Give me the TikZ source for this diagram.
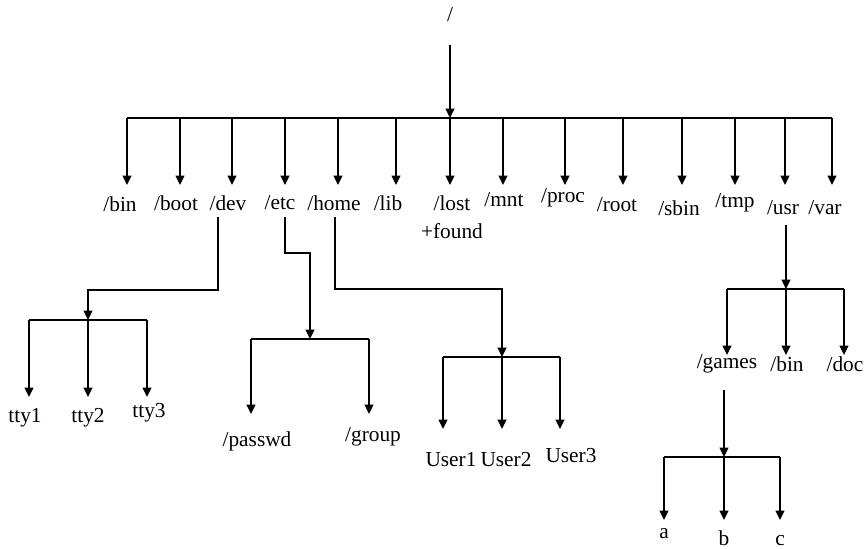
\documentclass[tikz,border=0pt]{standalone}
\usepackage{fontspec}
\setmainfont{Liberation Serif}
\usetikzlibrary{arrows.meta}
\begin{document}
\begin{tikzpicture}[x=0.75pt,y=-0.75pt,
  lbl/.style={inner sep=0pt,font=\fontsize{16}{21}\selectfont},
  ln/.style={line width=1.25pt},
  arr/.style={ln,-{Triangle[length=7pt,width=6.5pt]}}]
\useasboundingbox (0,0) rectangle (867,549);
% root
\node[lbl] (root) at (450,15) {/};
\coordinate (root-s) at (450,45);
\coordinate (top-j) at (450,118);
\coordinate (busL) at (127,118);
\coordinate (busR) at (832,118);
\draw[arr] (root-s) -- (top-j);
\draw[ln] (busL) -- (busR);
% first level
\foreach \n/\ax/\lx/\ly in {bin/127/120/204,boot/180/176/203,dev/232/228/203,etc/285/280/203,home/338/334/203,lib/396/388/203,mnt/503/504/200,proc/565/563/198,root/623/617/205,sbin/682/679/208,tmp/735/735/203,usr/785/783/208,var/832/825/208}{
  \node[lbl] (d-\n) at (\lx,\ly) {/\n};
  \coordinate (d-\n-t) at (\ax,185);
  \draw[arr] (d-\n-t |- busL) -- (d-\n-t);
}
\node[lbl,align=center] (d-lost) at (452,217) {/lost\\+found};
\coordinate (d-lost-t) at (450,185);
\draw[arr] (top-j) -- (d-lost-t);
% /dev subtree
\coordinate (dev-s) at (218,217);
\coordinate (dev-k) at (218,290);
\coordinate (dev-j) at (88,320);
\draw[arr] (dev-s) -- (dev-k) -- (dev-k -| dev-j) -- (dev-j);
\foreach \n/\ax/\lx/\ly in {tty1/29/25/418,tty2/88/88/418,tty3/147/149/413}{
  \node[lbl] (\n) at (\lx,\ly) {\n};
  \coordinate (\n-t) at (\ax,397);
}
\draw[ln] (tty1-t |- dev-j) -- (tty3-t |- dev-j);
\foreach \n in {tty1,tty2,tty3}{\draw[arr] (\n-t |- dev-j) -- (\n-t);}
% /etc subtree
\coordinate (etc-s) at (285,217);
\coordinate (etc-k) at (285,253);
\coordinate (etc-j) at (310,339);
\draw[arr] (etc-s) -- (etc-k) -- (etc-k -| etc-j) -- (etc-j);
\node[lbl] (passwd) at (257,441) {/passwd};
\node[lbl] (group) at (373,437) {/group};
\coordinate (passwd-t) at (251,414);
\coordinate (group-t) at (369,414);
\draw[ln] (passwd-t |- etc-j) -- (group-t |- etc-j);
\foreach \n in {passwd,group}{\draw[arr] (\n-t |- etc-j) -- (\n-t);}
% /home subtree
\coordinate (home-s) at (335,217);
\coordinate (home-k) at (335,289);
\coordinate (home-j) at (502,357);
\draw[arr] (home-s) -- (home-k) -- (home-k -| home-j) -- (home-j);
\foreach \n/\ax/\lx/\ly in {User1/443/451/460,User2/502/506/460,User3/560/571/456}{
  \node[lbl] (\n) at (\lx,\ly) {\n};
  \coordinate (\n-t) at (\ax,429);
}
\draw[ln] (User1-t |- home-j) -- (User3-t |- home-j);
\foreach \n in {User1,User2,User3}{\draw[arr] (\n-t |- home-j) -- (\n-t);}
% /usr subtree
\coordinate (usr-s) at (786,225);
\coordinate (usr-j) at (786,289);
\draw[arr] (usr-s) -- (usr-j);
\foreach \n/\ax/\lx/\ly in {games/727/727/364,bin/786/787/364,doc/844/845/364}{
  \node[lbl] (u-\n) at (\lx,\ly) {/\n};
  \coordinate (u-\n-t) at (\ax,355);
}
\draw[ln] (u-games-t |- usr-j) -- (u-doc-t |- usr-j);
\foreach \n in {games,bin,doc}{\draw[arr] (u-\n-t |- usr-j) -- (u-\n-t);}
% /games subtree
\coordinate (games-s) at (724,390);
\coordinate (games-j) at (724,457);
\draw[arr] (games-s) -- (games-j);
\foreach \n/\ax/\lx/\ly in {a/664/664/534,b/724/724/538,c/780/780/541}{
  \node[lbl] (g-\n) at (\lx,\ly) {\n};
  \coordinate (g-\n-t) at (\ax,520);
}
\draw[ln] (g-a-t |- games-j) -- (g-c-t |- games-j);
\foreach \n in {a,b,c}{\draw[arr] (g-\n-t |- games-j) -- (g-\n-t);}
\end{tikzpicture}
\end{document}
